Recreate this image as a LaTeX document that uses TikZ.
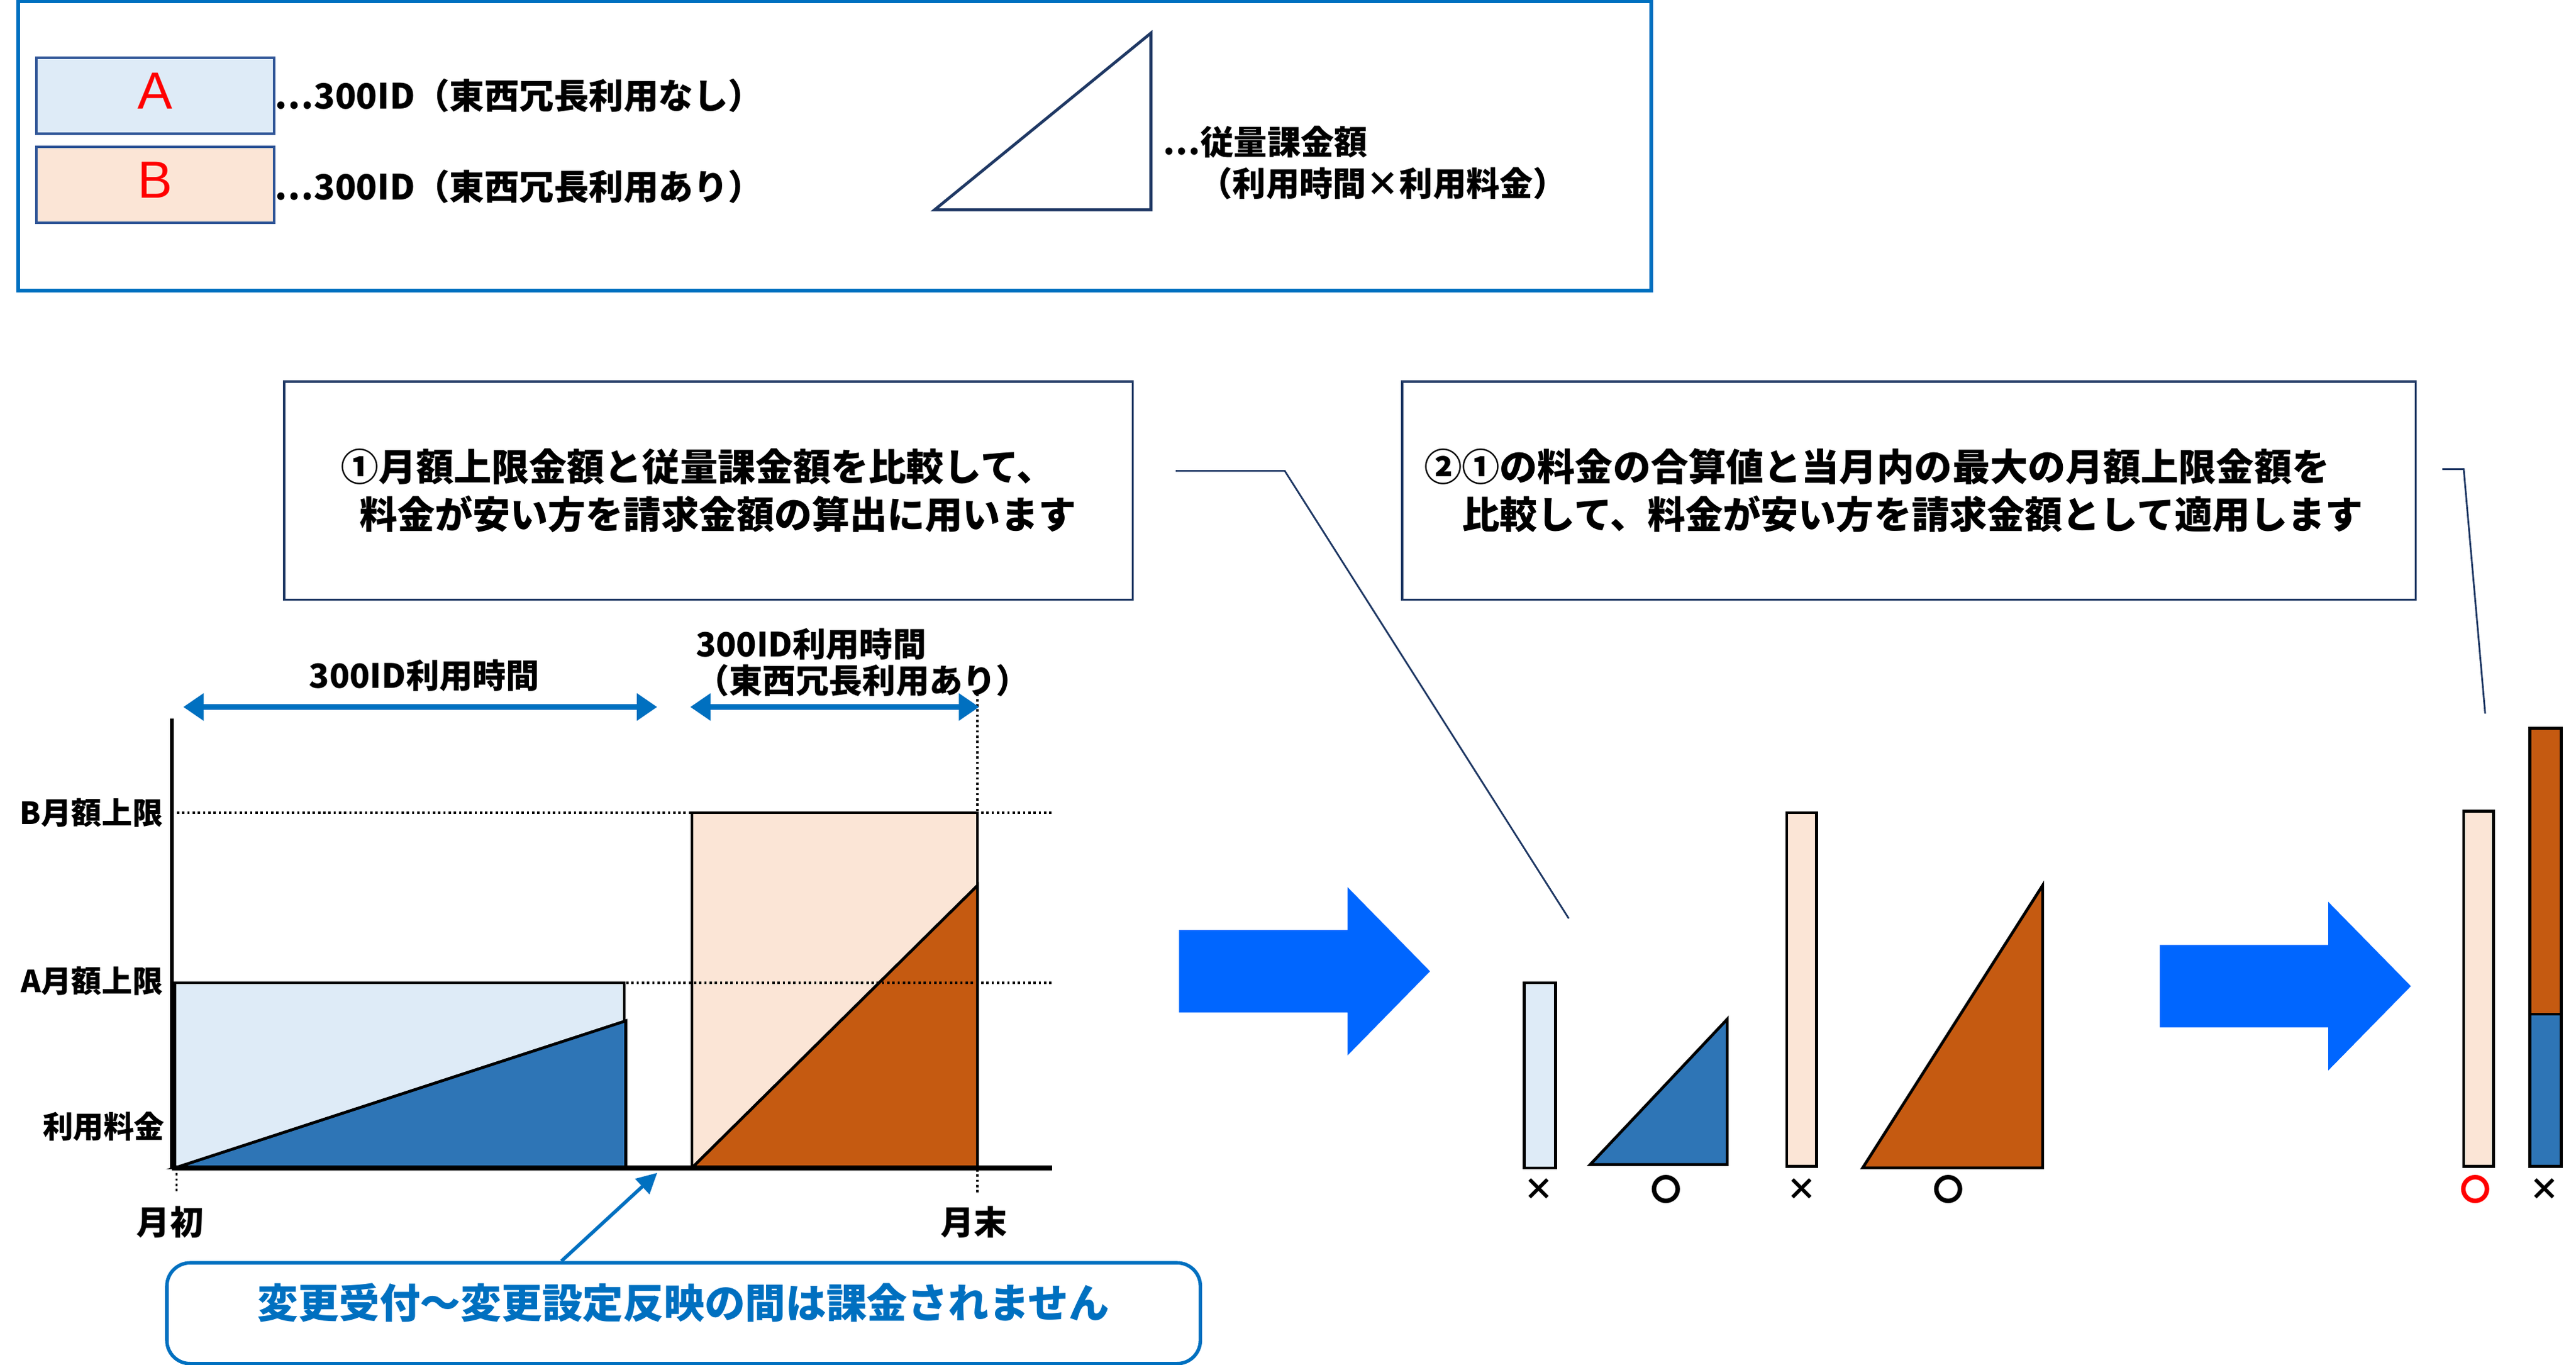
\documentclass[tikz,border=0pt]{standalone}
\usepackage{fontspec}
\usepackage{tikz}
\usetikzlibrary{arrows.meta,positioning}
\newfontfamily\jpfont{Noto Sans CJK JP}
\newfontfamily\arialfont{Liberation Sans}
\definecolor{lineblue}{HTML}{0070C0}
\definecolor{bigblue}{HTML}{0066FF}
\definecolor{paleA}{HTML}{DEEBF7}
\definecolor{paleB}{HTML}{FBE5D6}
\definecolor{fullA}{HTML}{2E75B6}
\definecolor{fullB}{HTML}{C55A11}
\definecolor{navy}{HTML}{1F3864}
\definecolor{keyedge}{HTML}{2F5597}

\begin{document}
\begin{tikzpicture}
  [x=0.02cm,y=-0.02cm,
   every node/.style={inner sep=0pt,font=\jpfont\bfseries\fontsize{11.5}{13}\selectfont},
   key/.style={draw=keyedge,line width=0.9pt,minimum width=2.88cm,minimum height=0.92cm},
   letter/.style={text=red,font=\arialfont\fontsize{18}{20}\selectfont},
   callout/.style={draw=navy,line width=0.8pt,minimum height=2.64cm,align=left,
                   font=\jpfont\bfseries\fontsize{13}{16.5}\selectfont},
   ylab/.style={anchor=east,font=\jpfont\bfseries\fontsize{10.5}{12}\selectfont},
   span/.style={lineblue,line width=2pt,{Triangle[length=7pt,width=9pt]}-{Triangle[length=7pt,width=9pt]}},
   guide/.style={densely dotted,line width=0.8pt},
   bar/.style={draw=black,line width=1pt},
   verdict/.style={font=\jpfont\bfseries\fontsize{10.5}{12}\selectfont}]
  \useasboundingbox (0,0) rectangle (1560,826);

  % legend
  \draw[lineblue,line width=1.2pt] (11,1) rectangle (1000,176);
  \node[key,fill=paleA] (keyA) at (94,58) {};
  \node[letter] (letA) at (94,55) {A};
  \node[key,fill=paleB] (keyB) at (94,112) {};
  \node[letter] (letB) at (94,109) {B};
  \node[anchor=west,font=\jpfont\bfseries\fontsize{12}{14}\selectfont] (txtA) at (166,58) {⋯300ID（東西冗長利用なし）};
  \node[anchor=west,font=\jpfont\bfseries\fontsize{12}{14}\selectfont] (txtB) at (166,113) {⋯300ID（東西冗長利用あり）};
  \draw[navy,line width=1pt] (566,127) -- (697,20) -- (697,127) -- cycle;
  \node[anchor=west] (txtT1) at (704,86) {⋯従量課金額};
  \node[anchor=west] (txtT2) at (726,111) {（利用時間×利用料金）};

  % callouts
  \node[callout,minimum width=10.28cm] (call1) at (429,297)
    {①月額上限金額と従量課金額を比較して、\\\hspace*{0.5em}料金が安い方を請求金額の算出に用います};
  \node[callout,minimum width=12.28cm] (call2) at (1156,297)
    {②①の料金の合算値と当月内の最大の月額上限金額を\\\hspace*{1em}比較して、料金が安い方を請求金額として適用します\hspace*{0.8em}};
  \coordinate (c1a) at (712,285);
  \coordinate (c1b) at (778,285);
  \coordinate (c1c) at (950,556);
  \coordinate (c2a) at (1479,284);
  \coordinate (c2b) at (1492,284);
  \coordinate (c2c) at (1505,432);
  \draw[navy,line width=0.6pt] (c1a) -- (c1b) -- (c1c);
  \draw[navy,line width=0.6pt] (c2a) -- (c2b) -- (c2c);

  % chart
  \filldraw[fill=paleA,bar] (106,595) rectangle (378,707);
  \filldraw[fill=fullA,bar] (106,707) -- (379,618) -- (379,707) -- cycle;
  \filldraw[fill=paleB,bar] (419,492) rectangle (592,707);
  \filldraw[fill=fullB,bar] (419,707) -- (592,536) -- (592,707) -- cycle;
  \foreach \y in {492,595}
    \draw[guide] (104,\y) -- (637,\y);
  \draw[guide] (592,420) -- (592,722);
  \draw[guide] (107,707) -- (107,722);
  \draw[line width=1.2pt] (104,435) -- (104,707);
  \draw[line width=1.8pt] (104,707) -- (637,707);
  \node[ylab] (labB) at (99,492) {B月額上限};
  \node[ylab] (labA) at (99,594) {A月額上限};
  \node[ylab] (labFee) at (100,682) {利用料金};
  \node (start) at (103,740) {月初};
  \node (end) at (590,740) {月末};

  \coordinate (s1l) at (111,428);
  \coordinate (s1r) at (398,428);
  \coordinate (s2l) at (418,428);
  \coordinate (s2r) at (593,428);
  \draw[span] (s1l) -- (s1r);
  \draw[span] (s2l) -- (s2r);
  \node (span1) at (257,409) {300ID利用時間};
  \node[anchor=west,align=left,font=\jpfont\bfseries\fontsize{11.5}{12.5}\selectfont] (span2) at (421,401)
    {300ID利用時間\\（東西冗長利用あり）};

  \node[draw=lineblue,line width=1.2pt,rounded corners=8pt,minimum width=12.52cm,minimum height=1.22cm,
        text depth=0.3cm,text=lineblue,font=\jpfont\bfseries\fontsize{14}{16}\selectfont] (note) at (414,795)
    {変更受付～変更設定反映の間は課金されません};
  \coordinate (gap) at (398,710);
  \draw[lineblue,line width=1.2pt,-{Triangle[length=7pt,width=7pt]}] (note.north) ++(-74,0) -- (gap);

  % big arrows
  \foreach \ax/\ay in {714/588,1308/597}
    \fill[bigblue] (\ax,\ay-25) -- ++(102,0) -- ++(0,-26) -- ++(50,51)
      -- ++(-50,51) -- ++(0,-26) -- ++(-102,0) -- cycle;

  % bars
  \filldraw[fill=paleA,bar] (923,595) rectangle (942,707);
  \filldraw[fill=fullA,bar] (963,705) -- (1046,617) -- (1046,705) -- cycle;
  \filldraw[fill=paleB,bar] (1082,492) rectangle (1100,706);
  \filldraw[fill=fullB,bar] (1128,707) -- (1237,536) -- (1237,707) -- cycle;
  \filldraw[fill=paleB,bar] (1492,491) rectangle (1510,706);
  \filldraw[fill=fullB,bar] (1532,441) rectangle (1551,614);
  \filldraw[fill=fullA,bar] (1532,614) rectangle (1551,706);
  \foreach \name/\x/\sym/\col in {v1/932/×/black,v2/1009/〇/black,v3/1091/×/black,
                                   v4/1180/〇/black,v5/1499/〇/red,v6/1541/×/black}
    \node[verdict,text=\col] (\name) at (\x,720) {\sym};
\end{tikzpicture}
\end{document}
